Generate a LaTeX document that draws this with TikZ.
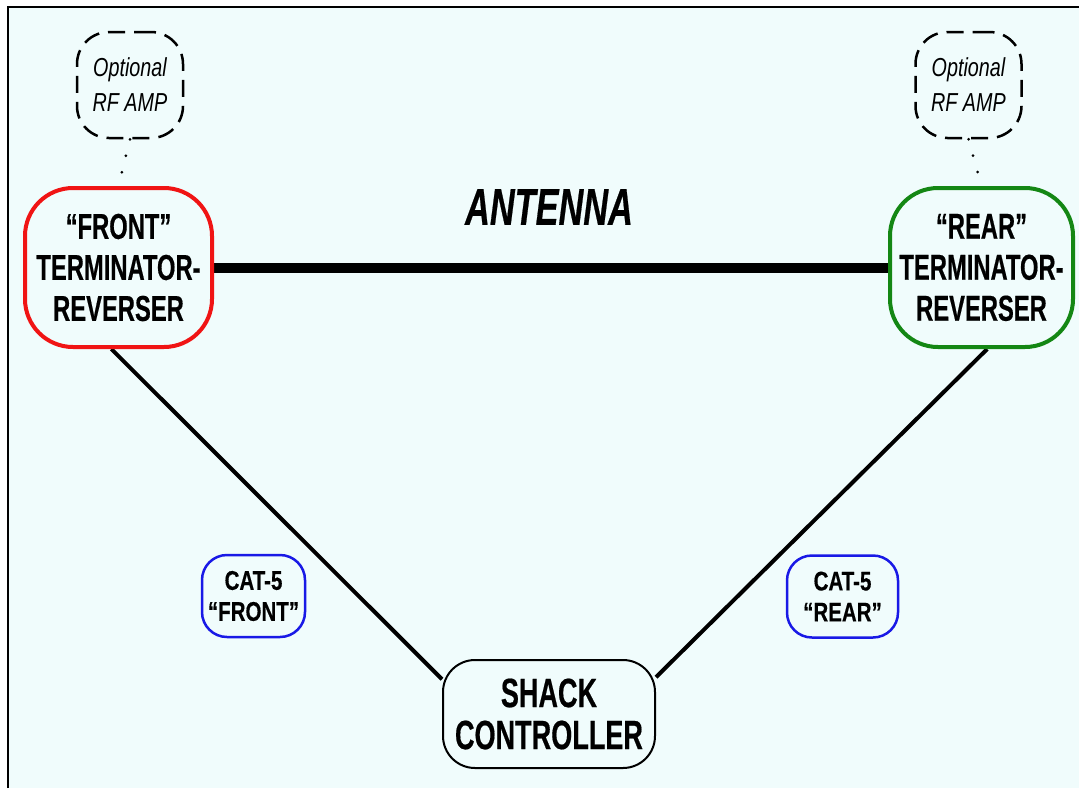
\documentclass[tikz,border=0pt]{standalone}
\usepackage{fontspec}
\setmainfont{Liberation Sans}[FakeStretch=0.66, BoldFeatures={FakeBold=0.4}, BoldItalicFeatures={FakeBold=0.4}]
\newfontfamily\labelfont{Liberation Sans}[FakeStretch=0.76, BoldFeatures={FakeBold=0.4}]
\usetikzlibrary{backgrounds}
\definecolor{paleaqua}{RGB}{240,252,252}
\definecolor{termred}{RGB}{240,20,20}
\definecolor{termgreen}{RGB}{20,135,20}
\definecolor{catblue}{RGB}{25,25,230}
\tikzset{
  term/.style={draw, line width=4pt, rounded corners=48pt, minimum width=187pt, minimum height=159pt,
    inner sep=0pt, align=center, fill=paleaqua, font=\bfseries\fontsize{36}{41}\selectfont},
  amp/.style={draw, dash pattern=on 17pt off 9pt, line width=2.5pt, rounded corners=32pt,
    minimum width=106pt, minimum height=106pt, inner sep=0pt, align=center, fill=paleaqua,
    font=\labelfont\itshape\fontsize{26}{35}\selectfont},
  catbox/.style={draw=catblue, line width=2.5pt, rounded corners=25pt, minimum height=82pt,
    inner sep=0pt, align=center, fill=paleaqua, font=\labelfont\bfseries\fontsize{27}{31}\selectfont},
  cable/.style={line width=4pt},
  feed/.style={line width=3pt, line cap=round, dash pattern=on 0pt off 17pt},
}
\begin{document}
\begin{tikzpicture}[x=1pt, y=-1pt]
\useasboundingbox (0,0) rectangle (1079,788);
% terminators
\node[term, draw=termred] (front) at (118.5,267.5) {“FRONT”\\TERMINATOR-\\REVERSER};
\node[term, draw=termgreen, minimum width=183pt] (rear) at (981.5,267.5) {“REAR”\\TERMINATOR-\\REVERSER};
% amplifiers
\node[amp] (ampF) at (130,85) {Optional\\RF AMP};
\node[amp] (ampR) at (968.5,85) {Optional\\RF AMP};
\draw[feed] (ampF.south) -- (front.north);
\draw[feed] (ampR.south) -- (rear.north);
% controller and cables
\node[draw, line width=2pt, rounded corners=32pt, minimum width=212pt, minimum height=108pt, inner sep=0pt,
  align=center, fill=paleaqua, font=\bfseries\fontsize{41}{42}\selectfont] (shack) at (549,714) {SHACK\\CONTROLLER};
\node[catbox, minimum width=103pt] (catF) at (253.5,596) {CAT-5\\“FRONT”};
\node[catbox, minimum width=111pt] (catR) at (842.5,596.5) {CAT-5\\“REAR”};
\node[font=\bfseries\itshape\fontsize{52}{52}\selectfont] (antlabel) at (549,207) {ANTENNA};

\begin{scope}[on background layer]
  \fill[paleaqua] (8,7) rectangle (1079,788);
  \draw[line width=2.5pt] (8,788) -- (8,7) -- (1079,7);
  \draw[line width=10pt, line cap=round] (front.east) -- (rear.west);
  \draw[cable] (front.265) -- (shack.162);
  \draw[cable] (rear.274) -- (shack.19);
\end{scope}
\end{tikzpicture}
\end{document}
